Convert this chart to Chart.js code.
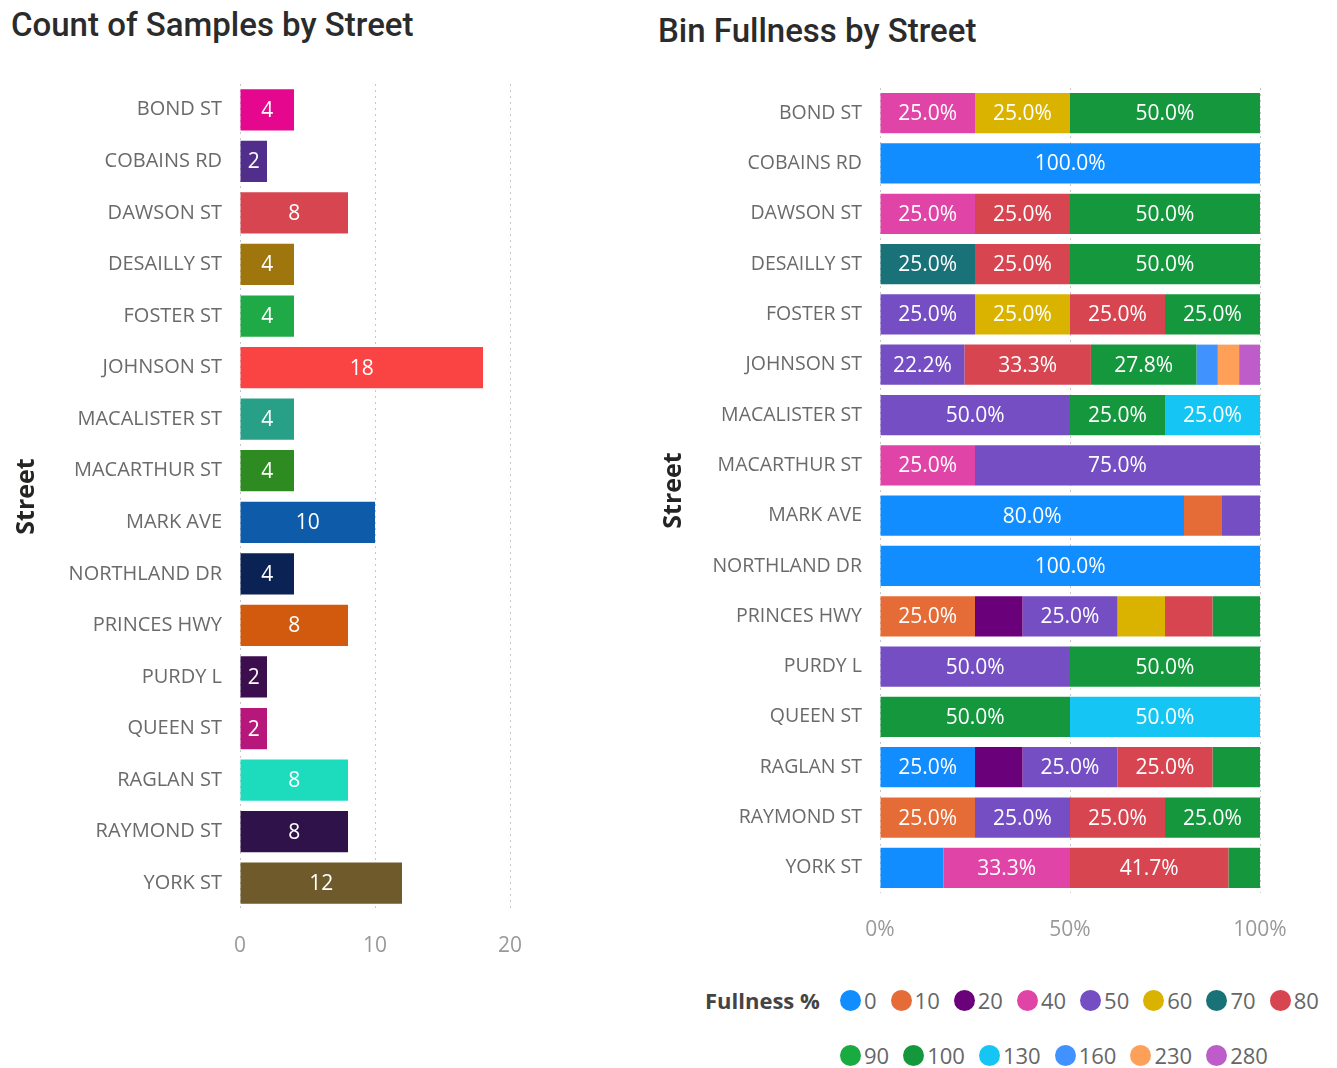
<!DOCTYPE html>
<html>
<head>
<meta charset="utf-8">
<script src="https://cdn.jsdelivr.net/npm/chart.js@4.4.1/dist/chart.umd.min.js"></script>
<style>
  body { margin: 0; background: #fff; width: 1337px; height: 1068px; overflow: hidden; position: relative; font-family: 'Open Sans', sans-serif; }
  .title { position: absolute; font-family: Roboto, sans-serif; font-weight: 500; font-size: 33px; line-height: 40px; color: #2b2b2b; white-space: nowrap; }
  canvas { position: absolute; }
  #legend { position: absolute; left: 705px; top: 980px; display: flex; }
  #legend .ltitle { font-weight: 700; font-size: 22px; color: #444; width: 135px; line-height: 40px; }
  #legend .items { display: flex; flex-wrap: wrap; width: 500px; row-gap: 15px; }
  #legend .item { display: flex; align-items: center; height: 40px; margin-right: 14px; font-size: 22px; color: #666; }
  #legend .dot { width: 21px; height: 21px; border-radius: 50%; margin-right: 3px; }
</style>
</head>
<body>
<div class="title" style="left:11px; top:5px;">Count of Samples by Street</div>
<div class="title" style="left:658px; top:11px;">Bin Fullness by Street</div>
<canvas id="countChart" width="540" height="899" style="left:0; top:60px;"></canvas>
<canvas id="fullnessChart" width="697" height="883" style="left:640px; top:60px;"></canvas>
<div id="legend"></div>

<script>
// ===== DATA =====
const streets = ['BOND ST', 'COBAINS RD', 'DAWSON ST', 'DESAILLY ST', 'FOSTER ST', 'JOHNSON ST',
  'MACALISTER ST', 'MACARTHUR ST', 'MARK AVE', 'NORTHLAND DR', 'PRINCES HWY', 'PURDY L',
  'QUEEN ST', 'RAGLAN ST', 'RAYMOND ST', 'YORK ST'];
const sampleCounts = [4, 2, 8, 4, 4, 18, 4, 4, 10, 4, 8, 2, 2, 8, 8, 12];
const streetColors = ['#E5078E', '#512E8C', '#D64550', '#9E760D', '#1FAA47', '#FA4444',
  '#28A088', '#2E8B22', '#0E5BAA', '#0B2255', '#D15A0F', '#3D0E4E',
  '#B7177A', '#1DDCBE', '#2F1249', '#6E5A2B'];
const countTicks = [0, 10, 20];

const fullnessLevels = ['0', '10', '20', '40', '50', '60', '70', '80', '90', '100', '130', '160', '230', '280'];
const fullnessColors = ['#118DFF', '#E66C37', '#6B007B', '#E044A7', '#744EC2', '#D9B300', '#197278',
  '#D64550', '#1AAB40', '#15983D', '#15C6F4', '#4092FF', '#FFA058', '#BE5DC9'];

// share of samples (%) per street, one array per fullness level
const pct0   = [0, 100, 0, 0, 0, 0, 0, 0, 80, 100, 0, 0, 0, 25, 0, 16.7];
const pct10  = [0, 0, 0, 0, 0, 0, 0, 0, 10, 0, 25, 0, 0, 0, 25, 0];
const pct20  = [0, 0, 0, 0, 0, 0, 0, 0, 0, 0, 12.5, 0, 0, 12.5, 0, 0];
const pct40  = [25, 0, 25, 0, 0, 0, 0, 25, 0, 0, 0, 0, 0, 0, 0, 33.3];
const pct50  = [0, 0, 0, 0, 25, 22.2, 50, 75, 10, 0, 25, 50, 0, 25, 25, 0];
const pct60  = [25, 0, 0, 0, 25, 0, 0, 0, 0, 0, 12.5, 0, 0, 0, 0, 0];
const pct70  = [0, 0, 0, 25, 0, 0, 0, 0, 0, 0, 0, 0, 0, 0, 0, 0];
const pct80  = [0, 0, 25, 25, 25, 33.3, 0, 0, 0, 0, 12.5, 0, 0, 25, 25, 41.7];
const pct90  = [0, 0, 0, 0, 0, 0, 0, 0, 0, 0, 0, 0, 0, 0, 0, 0];
const pct100 = [50, 0, 50, 50, 25, 27.8, 25, 0, 0, 0, 12.5, 50, 50, 12.5, 25, 8.3];
const pct130 = [0, 0, 0, 0, 0, 0, 25, 0, 0, 0, 0, 0, 50, 0, 0, 0];
const pct160 = [0, 0, 0, 0, 0, 5.6, 0, 0, 0, 0, 0, 0, 0, 0, 0, 0];
const pct230 = [0, 0, 0, 0, 0, 5.6, 0, 0, 0, 0, 0, 0, 0, 0, 0, 0];
const pct280 = [0, 0, 0, 0, 0, 5.6, 0, 0, 0, 0, 0, 0, 0, 0, 0, 0];
const fullnessValues = [pct0, pct10, pct20, pct40, pct50, pct60, pct70, pct80, pct90, pct100, pct130, pct160, pct230, pct280];
const pctTicks = [0, 50, 100];

// ===== SHARED STYLE =====
const xTickFont = { family: "'Open Sans', sans-serif", size: 21 };
const streetTitle = (padTop) => ({
  display: true,
  text: 'Street',
  color: '#252423',
  font: { family: "'Open Sans', sans-serif", size: 25, weight: 'bold' },
  padding: { top: padTop, bottom: 0 }
});

// fixed axis sizes so the plot area comes straight from layout padding
const fitX = s => { s.height = 50; s.paddingLeft = 0; s.paddingRight = 0; };
const fitY = s => { s.width = 240; s.paddingTop = 0; s.paddingBottom = 0; };

// draws value labels centered inside each bar
const barLabels = {
  id: 'barLabels',
  afterDatasetsDraw(chart, args, opts) {
    const ctx = chart.ctx;
    ctx.save();
    ctx.font = opts.font;
    ctx.fillStyle = '#fff';
    ctx.textAlign = 'center';
    ctx.textBaseline = 'middle';
    chart.data.datasets.forEach((ds, di) => {
      chart.getDatasetMeta(di).data.forEach((bar, i) => {
        const v = ds.data[i];
        if (!v || v < opts.minValue) return;
        ctx.fillText(opts.format(v), (bar.x + bar.base) / 2, bar.y + 1);
      });
    });
    ctx.restore();
  }
};

// ===== COUNT CHART =====
new Chart(document.getElementById('countChart'), {
  type: 'bar',
  data: {
    labels: streets,
    datasets: [{
      data: sampleCounts,
      backgroundColor: streetColors,
      barPercentage: 0.8,
      categoryPercentage: 1
    }]
  },
  options: {
    indexAxis: 'y',
    responsive: false,
    animation: false,
    layout: { padding: { top: 24, right: 30, left: 0, bottom: 0 } },
    plugins: {
      legend: { display: false },
      tooltip: { enabled: false },
      barLabels: { font: "21px 'Open Sans', sans-serif", minValue: 0, format: v => String(v) }
    },
    scales: {
      x: {
        min: 0, max: 20,
        afterBuildTicks: s => { s.ticks = countTicks.map(v => ({ value: v })); },
        afterFit: fitX,
        grid: { color: '#c8c8c8', drawTicks: false, lineWidth: 1 },
        border: { display: false, dash: [2, 4] },
        ticks: { color: '#999', font: xTickFont, padding: 24 }
      },
      y: {
        afterFit: fitY,
        grid: { display: false, drawTicks: false },
        border: { display: false },
        ticks: { color: '#6a6a6a', font: { family: "'Open Sans', sans-serif", size: 20 }, padding: 18 },
        title: streetTitle(12)
      }
    }
  },
  plugins: [barLabels]
});

// ===== FULLNESS CHART =====
new Chart(document.getElementById('fullnessChart'), {
  type: 'bar',
  data: {
    labels: streets,
    datasets: fullnessLevels.map((lvl, i) => ({
      label: lvl,
      data: fullnessValues[i],
      backgroundColor: fullnessColors[i],
      barPercentage: 0.8,
      categoryPercentage: 1
    }))
  },
  options: {
    indexAxis: 'y',
    responsive: false,
    animation: false,
    layout: { padding: { top: 28, right: 77, left: 0, bottom: 0 } },
    plugins: {
      legend: { display: false },
      tooltip: { enabled: false },
      barLabels: { font: "21px 'Open Sans', sans-serif", minValue: 20, format: v => v.toFixed(1) + '%' }
    },
    scales: {
      x: {
        stacked: true,
        min: 0, max: 100,
        afterBuildTicks: s => { s.ticks = pctTicks.map(v => ({ value: v })); },
        afterFit: fitX,
        grid: { color: '#c8c8c8', drawTicks: false, lineWidth: 1 },
        border: { display: false, dash: [2, 4] },
        ticks: { color: '#999', font: xTickFont, padding: 24, callback: v => v + '%' }
      },
      y: {
        stacked: true,
        afterFit: fitY,
        grid: { display: false, drawTicks: false },
        border: { display: false },
        ticks: { color: '#6a6a6a', font: { family: "'Open Sans', sans-serif", size: 19.5 }, padding: 18 },
        title: streetTitle(19)
      }
    }
  },
  plugins: [barLabels]
});

// ===== LEGEND =====
const legend = document.getElementById('legend');
legend.innerHTML = '<div class="ltitle">Fullness %</div><div class="items">' +
  fullnessLevels.map((lvl, i) =>
    `<div class="item"><span class="dot" style="background:${fullnessColors[i]}"></span>${lvl}</div>`
  ).join('') + '</div>';
</script>
</body>
</html>
